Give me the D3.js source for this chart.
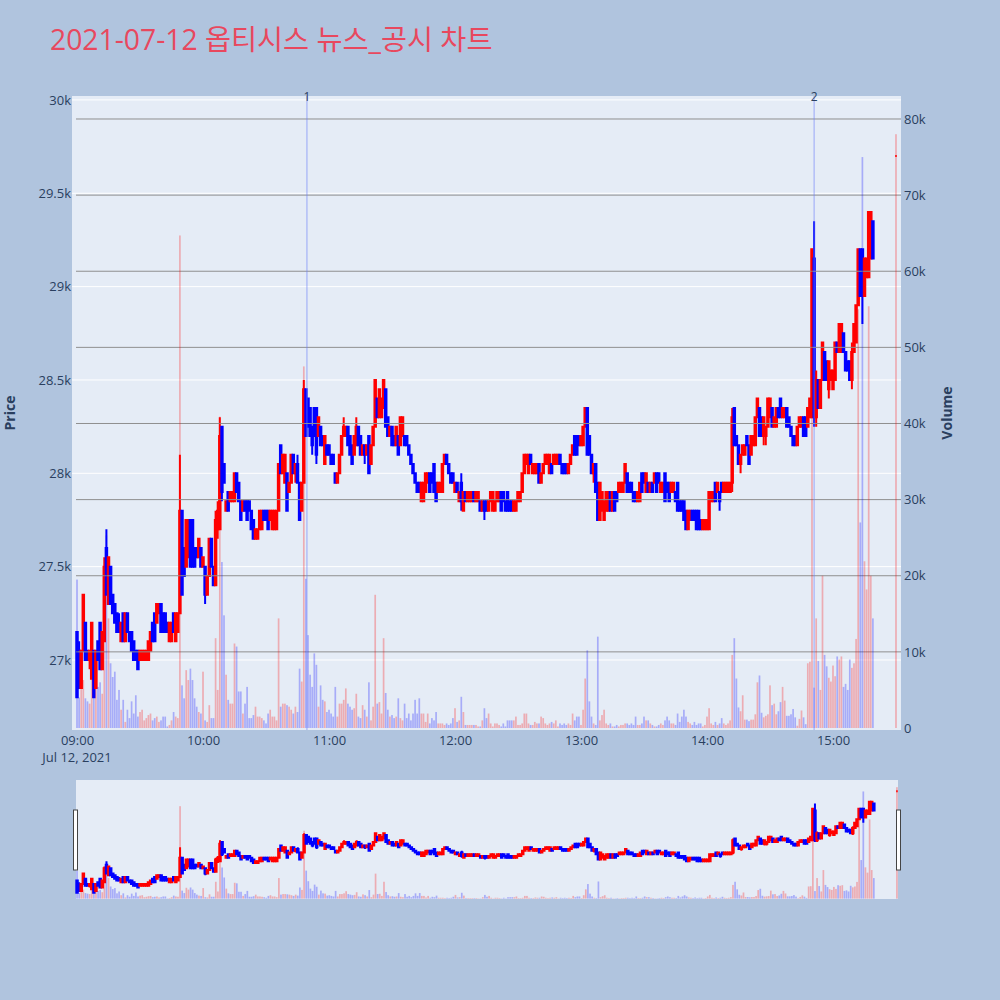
<!DOCTYPE html>
<html>
<head>
<meta charset="utf-8">
<script src="https://cdn.jsdelivr.net/npm/d3@7"></script>
<style>
  body { margin: 0; background: #b0c4de; }
</style>
</head>
<body>
<div id="chart"></div>
<script>
const chartTitle = '2021-07-12 옵티시스 뉴스_공시 차트'
const sessionStart = new Date(2021, 6, 12, 9, 0)
const closingAuction = new Date(2021, 6, 12, 15, 30)

// one row per minute from 09:00 : open, high, low, close
const ohlc = [
  [27150,27150,26800,26800],[27050,27100,26850,26850],[26850,27050,26850,27050],[27050,27350,27050,27350],[27200,27200,27000,27000],
  [27050,27050,27000,27000],[27000,27050,26950,27050],[26900,27200,26900,27200],[27050,27050,26800,26800],[26850,27050,26850,27050],
  [27100,27100,27000,27000],[27200,27200,26950,26950],[26950,27150,26950,27150],[27100,27550,27100,27500],[27600,27700,27350,27350],
  [27300,27550,27300,27550],[27500,27500,27300,27300],[27350,27350,27250,27250],[27300,27300,27200,27200],[27250,27250,27150,27150],
  [27200,27250,27150,27150],[27100,27200,27100,27200],[27250,27250,27100,27100],[27100,27250,27100,27250],[27250,27250,27150,27150],
  [27150,27150,27100,27100],[27150,27150,27050,27050],[27100,27100,27000,27000],[27050,27050,27000,27000],[27050,27050,26950,26950],
  [27000,27050,27000,27050],[27000,27050,27000,27050],[27000,27050,27000,27050],[27000,27050,27000,27050],[27000,27100,27000,27100],
  [27050,27150,27050,27150],[27200,27200,27100,27100],[27250,27250,27100,27100],[27200,27300,27200,27300],[27250,27300,27250,27300],
  [27300,27300,27150,27150],[27250,27250,27150,27150],[27250,27250,27150,27150],[27200,27200,27150,27150],[27100,27200,27100,27200],
  [27100,27200,27100,27200],[27250,27250,27150,27150],[27100,27250,27100,27250],[27150,27250,27150,27250],[27250,28100,27250,27800],
  // 09:50
  [27800,27800,27350,27350],[27600,27600,27450,27450],[27500,27750,27500,27750],[27550,27750,27550,27750],[27750,27750,27500,27500],
  [27750,27750,27500,27500],[27600,27600,27500,27500],[27600,27600,27550,27550],[27550,27650,27550,27650],[27600,27600,27500,27500],
  [27500,27550,27500,27550],[27500,27500,27300,27350],[27350,27450,27350,27450],[27450,27650,27450,27650],[27650,27650,27500,27500],
  [27500,27500,27400,27400],[27400,27800,27400,27750],[27700,27850,27650,27800],[27700,28300,27700,28200],[28250,28250,27850,27900],
  [28050,28050,27950,27950],[27800,27850,27800,27850],[27900,27900,27800,27800],[27850,27900,27850,27900],[27850,27900,27850,27900],
  [27850,28000,27850,28000],[28000,28000,27900,27900],[27950,27950,27850,27850],[27850,27850,27750,27750],[27800,27850,27800,27850],
  [27850,27850,27800,27800],[27850,27850,27750,27750],[27850,27850,27800,27800],[27800,27800,27700,27700],[27750,27750,27650,27650],
  [27650,27700,27650,27700],[27650,27700,27650,27700],[27700,27800,27700,27800],[27700,27800,27700,27800],[27800,27800,27750,27750],
  [27800,27800,27750,27750],[27800,27800,27700,27700],[27750,27800,27750,27800],[27700,27800,27700,27800],[27700,27800,27700,27800],
  [27700,27800,27700,27800],[27800,28050,27800,28050],[28150,28150,28000,28000],[28000,28100,28000,28100],[27950,28100,27950,28100],
  // 10:40
  [28000,28000,27800,27800],[27900,27950,27900,27950],[27950,28100,27950,28100],[28100,28100,28000,28000],[28000,28050,27950,28050],
  [28050,28100,27950,27950],[27950,27950,27750,27750],[27800,27950,27800,27950],[27950,28500,27950,28450],[28450,28450,28200,28200],
  [28400,28400,28250,28250],[28350,28350,28200,28200],[28250,28250,28100,28150],[28350,28350,28200,28200],[28350,28350,28050,28100],
  [28200,28300,28200,28300],[28250,28250,28150,28150],[28200,28200,28150,28150],[28050,28200,28050,28200],[28150,28150,28100,28100],
  [28150,28150,28100,28100],[28100,28100,28050,28050],[28100,28100,28050,28050],[28000,28000,27950,27950],[27950,28000,27950,28000],
  [28000,28100,28000,28100],[28100,28200,28100,28200],[28200,28300,28200,28250],[28200,28250,28200,28250],[28250,28250,28150,28150],
  [28200,28200,28100,28100],[28150,28150,28050,28050],[28100,28200,28100,28200],[28150,28300,28150,28250],[28250,28250,28150,28150],
  [28200,28200,28100,28100],[28100,28150,28100,28150],[28150,28150,28050,28100],[28100,28150,28100,28150],[28200,28200,28000,28000],
  [28050,28150,28050,28150],[28150,28250,28150,28250],[28250,28500,28250,28500],[28400,28400,28300,28300],[28300,28450,28300,28450],
  [28300,28400,28300,28400],[28350,28500,28350,28500],[28450,28450,28250,28250],[28300,28300,28200,28200],[28200,28250,28200,28250],
  // 11:30
  [28250,28250,28150,28150],[28200,28200,28150,28150],[28150,28250,28150,28250],[28200,28200,28100,28100],[28150,28300,28150,28300],
  [28200,28300,28200,28300],[28200,28200,28150,28150],[28200,28200,28150,28150],[28150,28150,28100,28100],[28100,28100,28050,28050],
  [28050,28050,28000,28000],[28000,28000,27950,27950],[27950,27950,27900,27900],[27950,27950,27900,27900],[27850,27950,27850,27950],
  [27850,27950,27850,27950],[27900,28000,27900,28000],[27950,28000,27950,28000],[28000,28000,27900,27900],[28000,28000,27950,27950],
  [28050,28050,27900,27900],[27950,27950,27850,27850],[27900,27950,27900,27950],[27900,27950,27900,27950],[27900,28050,27900,28050],
  [28050,28100,28050,28100],[28100,28100,28050,28050],[28050,28050,28000,28000],[28000,28000,27950,27950],[28000,28000,27950,27950],
  [27900,27950,27900,27950],[27950,27950,27900,27900],[27850,27900,27850,27900],[27950,28000,27800,27850],[27800,27900,27800,27900],
  [27900,27900,27850,27850],[27850,27900,27850,27900],[27850,27900,27850,27900],[27850,27900,27850,27900],[27900,27900,27850,27850],
  [27850,27900,27850,27900],[27850,27900,27850,27900],[27850,27850,27800,27800],[27800,27850,27800,27850],[27850,27850,27750,27800],
  [27850,27850,27800,27800],[27800,27850,27800,27850],[27850,27900,27850,27900],[27800,27900,27800,27900],[27800,27850,27800,27850],
  // 12:20
  [27850,27900,27850,27900],[27850,27900,27850,27900],[27900,27900,27800,27800],[27900,27900,27850,27850],[27850,27850,27800,27800],
  [27900,27900,27800,27800],[27850,27850,27800,27800],[27850,27850,27800,27800],[27800,27850,27800,27850],[27800,27850,27800,27850],
  [27850,27900,27850,27900],[27850,27900,27850,27900],[27900,28000,27900,28000],[28000,28100,28000,28100],[28050,28100,28050,28100],
  [28000,28100,28000,28100],[28100,28100,28050,28050],[28000,28050,28000,28050],[28000,28050,28000,28050],[28000,28050,28000,28050],
  [28050,28050,27950,27950],[27950,28000,27950,28000],[28000,28050,28000,28050],[28050,28100,28050,28100],[28050,28100,28050,28100],
  [28000,28100,28000,28100],[28050,28050,28000,28000],[28050,28100,28050,28100],[28050,28100,28050,28100],[28050,28100,28050,28100],
  [28100,28100,28050,28050],[28050,28050,28000,28000],[28050,28050,28000,28000],[28050,28050,28000,28000],[28000,28050,28000,28050],
  [28050,28100,28050,28100],[28100,28150,28100,28150],[28200,28200,28100,28100],[28200,28200,28100,28100],[28200,28200,28150,28150],
  [28150,28200,28150,28200],[28150,28250,28150,28250],[28250,28350,28250,28350],[28350,28350,28100,28100],[28200,28200,28100,28100],
  [28100,28100,28000,28000],[28000,28050,27950,28050],[28050,28050,27900,27900],[27950,27950,27750,27750],[27750,27950,27750,27950],
  // 13:10
  [27800,27900,27800,27900],[27750,27850,27750,27850],[27800,27900,27800,27900],[27800,27900,27800,27900],[27900,27900,27800,27800],
  [27800,27900,27800,27900],[27900,27900,27800,27800],[27900,27900,27850,27850],[27900,27950,27900,27950],[27900,27950,27900,27950],
  [27900,27950,27900,27950],[27950,28050,27950,28050],[28000,28000,27900,27900],[27950,27950,27900,27900],[27950,27950,27900,27900],
  [27900,27900,27850,27850],[27900,27900,27850,27850],[27850,27900,27850,27900],[27850,27950,27850,27950],[28000,28000,27900,27900],
  [28000,28000,27950,27950],[27900,28000,27900,28000],[27950,27950,27900,27900],[27900,27950,27900,27950],[27950,27950,27900,27900],
  [27950,28000,27950,28000],[28000,28000,27900,27900],[28000,28000,27950,27950],[27900,27950,27900,27950],[27900,27950,27900,27950],
  [28000,28000,27850,27850],[27950,27950,27900,27900],[27950,27950,27850,27850],[27900,27950,27900,27950],[27900,27950,27900,27950],
  [27900,27900,27850,27850],[27950,27950,27800,27800],[27850,27850,27800,27800],[27850,27850,27800,27800],[27850,27850,27750,27750],
  [27800,27800,27700,27700],[27700,27800,27700,27800],[27750,27800,27750,27800],[27800,27800,27750,27750],[27800,27800,27750,27750],
  [27800,27800,27700,27700],[27800,27800,27700,27700],[27750,27750,27700,27700],[27700,27750,27700,27750],[27700,27750,27700,27750],
  // 14:00
  [27700,27750,27700,27750],[27700,27900,27700,27900],[27850,27900,27850,27900],[27850,27900,27850,27900],[27950,27950,27850,27850],
  [27900,27950,27900,27950],[27900,27900,27800,27850],[27950,27950,27900,27900],[27900,27950,27900,27950],[27900,27950,27900,27950],
  [27900,27950,27900,27950],[27900,27950,27900,27950],[27950,28350,27900,28300],[28350,28350,28150,28150],[28200,28200,28150,28150],
  [28150,28150,28050,28050],[28050,28100,28000,28100],[28100,28150,28100,28150],[28100,28150,28100,28150],[28200,28200,28150,28150],
  [28150,28150,28050,28050],[28100,28200,28100,28200],[28150,28200,28150,28200],[28150,28300,28150,28300],[28300,28400,28300,28400],
  [28350,28350,28200,28200],[28300,28300,28200,28200],[28200,28300,28150,28300],[28200,28250,28150,28250],[28250,28400,28250,28400],
  [28300,28400,28300,28400],[28350,28350,28250,28250],[28250,28300,28250,28300],[28250,28350,28250,28350],[28350,28350,28300,28300],
  [28400,28400,28300,28300],[28300,28350,28300,28350],[28300,28350,28300,28350],[28350,28350,28250,28250],[28300,28300,28250,28250],
  [28250,28250,28200,28200],[28200,28200,28150,28150],[28200,28200,28150,28150],[28150,28250,28150,28250],[28250,28300,28250,28300],
  [28250,28300,28250,28300],[28300,28300,28200,28200],[28300,28300,28200,28200],[28250,28350,28250,28350],[28300,28400,28300,28400],
  // 14:50
  [28300,29200,28300,29200],[29150,29350,28250,28300],[28300,28550,28250,28500],[28500,28500,28350,28350],[28350,28500,28350,28500],
  [28500,28700,28500,28700],[28650,28650,28500,28500],[28600,28600,28500,28500],[28450,28600,28400,28600],[28500,28550,28500,28550],
  [28450,28550,28450,28550],[28500,28700,28500,28700],[28700,28700,28650,28650],[28650,28800,28650,28800],[28650,28800,28650,28800],
  [28750,28750,28650,28650],[28650,28650,28550,28550],[28600,28600,28550,28550],[28600,28600,28500,28500],[28500,28700,28450,28650],
  [28650,28800,28650,28800],[28700,28900,28700,28900],[28900,29200,28900,29200],[29200,29200,28950,28950],[29200,29200,28800,29000],
  [28950,29150,28950,29150],[29050,29150,29050,29150],[29050,29400,29050,29400],[29150,29400,29150,29400],[29350,29350,29150,29150]
]
const closingOhlc = [29700, 29700, 29700, 29700]

// shares traded per minute, same order as ohlc
const volumes = [
  19500,4000,5200,6300,3900,3500,3200,11800,4500,5400,
  5400,6000,4500,21000,25300,14400,8500,6700,7400,3700,
  5000,2400,3700,800,2400,1300,3500,1900,4300,1500,
  2100,2400,1000,1300,1700,1900,1000,1300,1500,800,
  1000,1500,1500,200,400,1000,2100,1500,1300,64700,
  5600,3900,7600,6300,7800,6300,3900,2800,2100,1900,
  7400,1000,800,3000,1300,1300,11800,5000,40900,21800,
  14800,7000,3700,3200,3200,11100,10700,4800,4800,1900,
  3200,5400,1300,1300,1700,2800,1500,1500,1300,1000,
  600,1900,2400,1500,1500,1000,14400,2800,3200,3200,
  3000,2800,2400,1900,2800,2100,7800,6100,47500,19600,
  12200,7000,5400,9800,8300,2800,5600,3700,3500,2100,
  2400,1900,1500,5400,1500,3200,3200,3700,5200,3200,
  2800,2400,2600,4500,1500,1300,3000,2400,1500,6000,
  1000,2800,17500,3200,3400,1900,11800,4600,2400,1500,
  1700,1300,1500,3900,1300,1000,3200,1300,1900,1000,
  1900,3700,1900,3900,1900,1900,800,1900,600,1300,
  1000,2100,600,600,600,400,600,400,600,1300,
  2600,800,1000,4100,2100,400,400,400,400,400,
  400,200,200,1000,2600,1300,1900,600,200,600,
  600,400,200,600,200,1000,1000,1000,1000,1500,
  400,400,600,1900,1900,600,400,400,800,600,
  600,1500,1300,600,400,600,800,600,1000,200,
  600,400,600,400,600,400,1900,1000,1500,1500,
  400,2400,6500,10200,3500,1500,600,400,12000,1000,
  1700,2400,600,400,600,200,200,400,200,400,
  400,600,600,400,600,400,1500,400,400,600,
  1500,1000,1000,600,400,200,200,400,600,400,
  1000,1500,1000,600,600,400,1900,800,1500,2400,
  1500,800,600,400,800,400,600,600,200,400,
  1500,2600,600,400,800,400,600,1300,600,400,
  600,1000,9600,11800,6500,2700,2200,4300,1100,1100,
  900,1100,1100,1800,6000,6900,2000,1400,1600,1800,
  5600,3000,3200,1800,2200,3400,5400,3600,1600,1600,
  1800,2500,1400,300,1200,2300,1400,500,8500,8700,
  63000,5300,14400,8800,5000,20000,9600,8100,6600,6100,
  8200,6800,9400,9000,9400,5400,5800,5000,9000,7900,
  8500,11700,55000,27000,75000,21900,18200,55400,20000,14400
]
const closingVolume = 78000

// news / disclosure markers
const newsTimes = [new Date(2021, 6, 12, 10, 49, 30), new Date(2021, 6, 12, 14, 51, 0)]
const newsLabels = ['1', '2']

const priceTicks = [27000, 27500, 28000, 28500, 29000, 29500, 30000]
const volumeTicks = [0, 10000, 20000, 30000, 40000, 50000, 60000, 70000, 80000]

const font = "'Open Sans', 'Noto Sans CJK KR', sans-serif"
const upColor = '#ff0000'
const downColor = '#0000ff'
const tickColor = '#2a3f5f'

const rows = ohlc.map((r, i) => ({
  t: d3.timeMinute.offset(sessionStart, i), o: r[0], h: r[1], l: r[2], c: r[3], v: volumes[i]
}))
rows.push({t: closingAuction, o: closingOhlc[0], h: closingOhlc[1], l: closingOhlc[2], c: closingOhlc[3], v: closingVolume})

const plot = {left: 72, right: 901, top: 96, bottom: 730}
const rs = {left: 76, right: 898, top: 780, bottom: 899}

const x = d3.scaleTime()
  .domain([d3.timeSecond.offset(sessionStart, -143), d3.timeSecond.offset(closingAuction, 143)])
  .range([plot.left, plot.right])
const yPrice = d3.scaleLinear().domain([26625, 30021]).range([plot.bottom, plot.top])
const yVol = d3.scaleLinear().domain([-263, 83020]).range([plot.bottom, plot.top])

const xs = d3.scaleTime()
  .domain([d3.timeSecond.offset(sessionStart, -30), d3.timeSecond.offset(closingAuction, 30)])
  .range([rs.left, rs.right])
const ysPrice = yPrice.copy().range([rs.bottom, rs.top])
const ysVol = yVol.copy().range([rs.bottom, rs.top])

const svg = d3.select('#chart')
  .append('svg')
    .attr('width', 1000)
    .attr('height', 1000)
    .style('font-family', font)

svg.append('rect').attr('width', 1000).attr('height', 1000).attr('fill', '#b0c4de')

svg.append('defs').append('clipPath').attr('id', 'clip')
  .append('rect')
    .attr('x', plot.left).attr('y', plot.top)
    .attr('width', plot.right - plot.left).attr('height', plot.bottom - plot.top)

// title
svg.append('text')
  .attr('x', 50).attr('y', 50)
  .attr('font-size', 28.3)
  .attr('fill', '#e8485e')
  .text(chartTitle)

// plot background + price grid
svg.append('rect')
  .attr('x', plot.left).attr('y', plot.top)
  .attr('width', plot.right - plot.left).attr('height', plot.bottom - plot.top)
  .attr('fill', '#e5ecf6')

svg.append('g')
  .selectAll('line')
  .data(priceTicks)
  .enter()
  .append('line')
    .attr('x1', plot.left).attr('x2', plot.right)
    .attr('y1', d => yPrice(d)).attr('y2', d => yPrice(d))
    .attr('stroke', '#ffffff')
    .attr('stroke-width', 1)

function candlePath(d, xsc, ysc, bw) {
  const cx = xsc(d.t)
  const top = ysc(Math.max(d.o, d.c))
  const bot = ysc(Math.min(d.o, d.c))
  return `M${cx},${ysc(d.h)}V${top}M${cx - bw / 2},${top}H${cx + bw / 2}V${bot}H${cx - bw / 2}Z` +
    `M${cx},${bot}V${ysc(d.l)}`
}

function drawCandles(g, xsc, ysc, bw, lw) {
  g.selectAll('path')
    .data(rows)
    .enter()
    .append('path')
      .attr('d', d => candlePath(d, xsc, ysc, bw))
      .attr('fill', d => d.c >= d.o ? upColor : downColor)
      .attr('stroke', d => d.c >= d.o ? upColor : downColor)
      .attr('stroke-width', lw)
      .attr('stroke-linejoin', 'miter')
}

function drawVolume(g, xsc, ysc, w) {
  g.selectAll('rect')
    .data(rows)
    .enter()
    .append('rect')
      .attr('x', d => xsc(d.t) - w / 2)
      .attr('width', w)
      .attr('y', d => ysc(d.v))
      .attr('height', d => ysc(0) - ysc(d.v))
      .attr('fill', d => d.c >= d.o ? upColor : downColor)
      .attr('fill-opacity', 0.27)
}

const main = svg.append('g').attr('clip-path', 'url(#clip)')
drawCandles(main.append('g'), x, yPrice, 1.5, 2)

// volume grid (secondary axis) drawn over the price layer
main.append('g')
  .selectAll('line')
  .data(volumeTicks.slice(1))
  .enter()
  .append('line')
    .attr('x1', plot.left + 4).attr('x2', plot.right)
    .attr('y1', d => yVol(d)).attr('y2', d => yVol(d))
    .attr('stroke', '#8f8f8f')
    .attr('stroke-width', 1)

drawVolume(main.append('g'), x, yVol, 1.7)

// news markers
main.append('g')
  .selectAll('line')
  .data(newsTimes)
  .enter()
  .append('line')
    .attr('x1', d => x(d)).attr('x2', d => x(d))
    .attr('y1', plot.top).attr('y2', plot.bottom)
    .attr('stroke', 'rgb(110,130,250)')
    .attr('stroke-opacity', 0.65)
    .attr('stroke-width', 1)

svg.append('g')
  .selectAll('text')
  .data(newsTimes)
  .enter()
  .append('text')
    .attr('x', d => x(d)).attr('y', 101)
    .attr('text-anchor', 'middle')
    .attr('font-size', 12)
    .attr('fill', tickColor)
    .text((d, i) => newsLabels[i])

// axes
function styleAxis(g) {
  g.select('.domain').remove()
  g.selectAll('text').attr('fill', tickColor).attr('font-size', 13).attr('font-family', font)
}

svg.append('g')
  .attr('transform', `translate(${plot.left},0)`)
  .call(d3.axisLeft(yPrice).tickValues(priceTicks).tickFormat(d3.format('~s')).tickSize(0).tickPadding(1))
  .call(styleAxis)

svg.append('g')
  .attr('transform', `translate(${plot.right},0)`)
  .call(d3.axisRight(yVol).tickValues(volumeTicks).tickFormat(d3.format('~s')).tickSize(0).tickPadding(3))
  .call(styleAxis)

svg.append('g')
  .attr('transform', `translate(0,${plot.bottom})`)
  .call(d3.axisBottom(x).ticks(d3.timeHour.every(1)).tickFormat(d3.timeFormat('%H:%M')).tickSize(0).tickPadding(6))
  .call(styleAxis)

svg.append('text')
  .attr('x', x(sessionStart)).attr('y', 762)
  .attr('text-anchor', 'middle')
  .attr('font-size', 13)
  .attr('fill', tickColor)
  .text(d3.timeFormat('%b %-d, %Y')(sessionStart))

svg.append('text')
  .attr('transform', 'translate(15,413) rotate(-90)')
  .attr('text-anchor', 'middle')
  .attr('font-size', 14)
  .attr('font-weight', 'bold')
  .attr('fill', tickColor)
  .text('Price')

svg.append('text')
  .attr('transform', 'translate(952,413) rotate(-90)')
  .attr('text-anchor', 'middle')
  .attr('font-size', 14)
  .attr('font-weight', 'bold')
  .attr('fill', tickColor)
  .text('Volume')

// range slider
svg.append('rect')
  .attr('x', rs.left).attr('y', rs.top)
  .attr('width', rs.right - rs.left).attr('height', rs.bottom - rs.top)
  .attr('fill', '#e5ecf6')

drawCandles(svg.append('g'), xs, ysPrice, 1.5, 2)
drawVolume(svg.append('g'), xs, ysVol, 1.7)

svg.append('g')
  .selectAll('rect')
  .data([rs.left - 2.5, rs.right - 1.5])
  .enter()
  .append('rect')
    .attr('x', d => d).attr('y', 810)
    .attr('width', 4).attr('height', 60)
    .attr('fill', '#ffffff')
    .attr('stroke', '#444444')
    .attr('stroke-width', 1)
</script>
</body>
</html>
